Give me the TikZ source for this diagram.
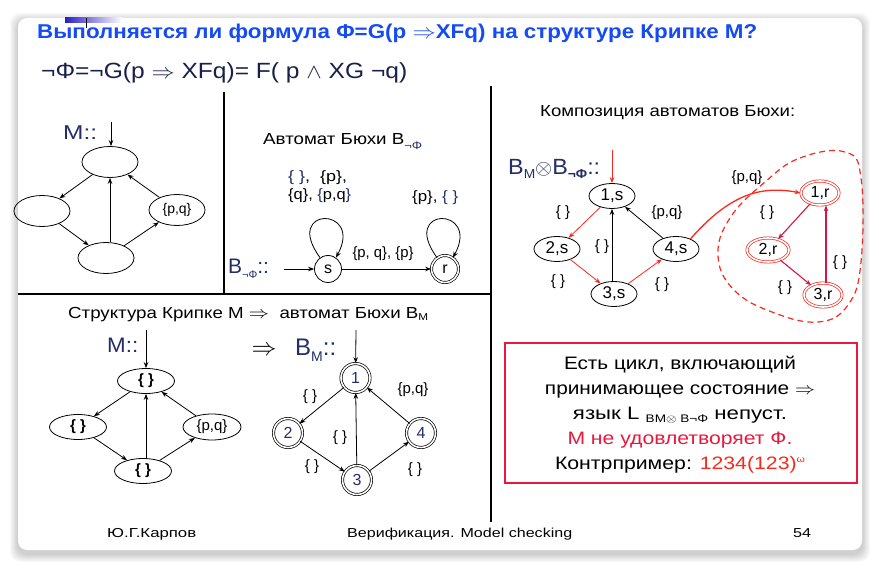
\documentclass[tikz,border=0pt]{standalone}
\usepackage{fontspec}
\usepackage{graphicx}
\setmainfont{Liberation Sans}
\usetikzlibrary{shapes.geometric,arrows.meta,calc}
\definecolor{tblue}{RGB}{20,75,245}
\definecolor{navy}{RGB}{35,45,105}
\definecolor{fred}{RGB}{250,40,30}
\definecolor{crim}{RGB}{215,20,70}
\definecolor{boxred}{RGB}{232,25,60}
\definecolor{deco}{RGB}{40,30,200}
\newcommand{\fw}[2]{\resizebox{#1}{\height}{#2}}
\newcommand{\fsz}[1]{\fontsize{#1}{#1}\selectfont}
\tikzset{
  arr/.style={-{Stealth[length=6pt,width=4.5pt]}, line width=0.8pt},
  ell/.style={draw, ellipse, line width=0.8pt, inner sep=0, minimum width=56pt, minimum height=31pt, font=\fsz{14}},
  ellb/.style={draw, ellipse, line width=0.8pt, inner sep=0, minimum width=57pt, minimum height=25pt, font=\fsz{15}\bfseries},
  circ/.style={draw, circle, line width=0.8pt, inner sep=0, minimum size=27pt, font=\fsz{16}},
  dcirc/.style={draw, circle, double, double distance=1.6pt, line width=0.7pt, inner sep=0, minimum size=29pt, text=navy, font=\fsz{16}},
  cell/.style={draw, ellipse, line width=0.8pt, inner sep=0, minimum width=46pt, minimum height=25pt, font=\fsz{17}},
  rcell/.style={draw=fred, ellipse, double, double distance=1.6pt, line width=0.7pt, inner sep=0, minimum width=38pt, minimum height=24pt, font=\fsz{16}},
  lbl/.style={inner sep=0, font=\fsz{15}},
  txt/.style={inner sep=0, anchor=base west},
}
\begin{document}
\begin{tikzpicture}[x=1pt,y=-1pt]
\useasboundingbox (0,0) rectangle (879,569);
\fill[white] (0,0) rectangle (879,569);
% card shadow
\foreach \i in {1,...,8}{
  \fill[black, opacity=0.025, rounded corners=10] (18-\i,18-\i+3) rectangle (862+\i,550+\i+4);
}
\fill[white, rounded corners=9] (18,18) rectangle (862,550);
% decoration
\shade[left color=deco, right color=white] (65,18) rectangle (122,23);
\draw[line width=0.8pt] (86,18) -- (86,28);

% title
\node[txt, text=tblue] (title) at (37,39) {\fw{720pt}{\fsz{20}\bfseries Выполняется ли формула Φ=G(p $\Rightarrow$XFq) на структуре Крипке M?}};
\node[txt, text=navy!70!black] (formula) at (41,79) {\fw{366pt}{\fsz{22}¬Φ=¬G(p $\Rightarrow$ XFq)= F( p $\wedge$ XG ¬q)}};

% separators
\draw[line width=1.3pt] (224,92) -- (224,294);
\draw[line width=1.3pt] (18,294) -- (491,294);
\draw[line width=1.3pt] (491,86) -- (491,522);

% ---- top-left: M
\node[txt, text=navy, font=\fsz{20}] (mlab) at (63,140) {\fw{34pt}{M::}};
\node[ell] (a1) at (110,162) {};
\node[ell] (a2) at (42,211) {};
\node[ell] (a4) at (177,210) {\{p,q\}};
\node[ell] (a3) at (106,258) {};
\coordinate (a0) at (111,122);
\draw[arr] (a0) -- (a0 |- a1.north);
\draw[arr] (a1) -- (a2);
\draw[arr] (a2) -- (a3);
\draw[arr] (a3) -- (a4);
\draw[arr] (a4) -- (a1);
\draw[arr] (a3.north -| a1) -- (a1);

% ---- top-middle: B_notPhi
\node[txt, font=\fsz{16}] (bt) at (263,145) {\fw{159pt}{Автомат Бюхи B\textcolor{navy}{\raisebox{-5pt}{\fsz{11}¬Φ}}}};
\node[txt, font=\fsz{15}] (l1) at (288,182) {\fw{59pt}{\textcolor{navy}{\{ \}},\ \ \{p\},}};
\node[txt, font=\fsz{15}] (l2) at (288,200) {\fw{63pt}{\{q\}, \textcolor{navy}{\{}p,q\textcolor{navy}{\}}}};
\node[circ] (s) at (328,269) {s};
\node[circ, double, double distance=1.6pt, line width=0.7pt] (r) at (445,269) {r};
\node[txt, text=navy, font=\fsz{21}] (bl) at (228,274) {B\raisebox{-5pt}{\fsz{11}¬Φ}::};
\coordinate (bin) at (284,269);
\draw[arr] (bin) -- (s);
\draw[arr] (s.125) .. controls (282,206) and (364,206) .. (s.55);
\draw[arr] (r.125) .. controls (399,206) and (481,206) .. (r.55);
\draw[arr] (s) -- (r);
\node[lbl, anchor=base] (l3) at (383,258) {\fw{61pt}{\{p, q\}, \{p\}}};
\node[txt, font=\fsz{15}] (l4) at (412,202) {\fw{46pt}{\{p\}, \textcolor{navy}{\{ \}}}};

% ---- top-right: composition
\node[txt, font=\fsz{16}] (ct) at (540,117) {\fw{255pt}{Композиция автоматов Бюхи:}};
\node[txt, text=navy, font=\fsz{22}] (cl) at (508,175) {\fw{92pt}{B\raisebox{-4pt}{\fsz{13}M}$\otimes$B\raisebox{-4pt}{\fsz{13}\bfseries¬Φ}::}};
\node[cell] (c1) at (612,196) {1,s};
\node[cell] (c2) at (557,249) {2,s};
\node[cell] (c4) at (676,249) {4,s};
\node[cell] (c3) at (614,294) {3,s};
\node[rcell] (d1) at (820,193) {1,r};
\node[rcell, minimum width=42pt] (d2) at (768,250) {2,r};
\node[rcell] (d3) at (823,295) {3,r};
\coordinate (cin) at (612,150);
\draw[arr, fred] (cin) -- (c1);
\draw[arr, fred] (c1) -- (c2);
\draw[arr, fred] (c2) -- (c3);
\draw[arr, fred] (c3) -- (c4);
\draw[arr] (c3.north -| c1) -- (c1);
\draw[arr] (c4) -- (c1);
\draw[arr, fred, line width=1.3pt] (c4.35) .. controls (725,200) and (755,184) .. (d1.west);
\draw[arr, crim, line width=1.1pt] (d1) -- (d2);
\draw[arr, crim, line width=1.1pt] (d2) -- (d3);
\draw[arr, crim, line width=1.1pt] (d3.north -| 826,0) -- (d1.south -| 826,0);
\node[lbl] (k1) at (563,213) {\{ \}};
\node[lbl] (k2) at (558,282) {\{ \}};
\node[lbl] (k3) at (662,285) {\{ \}};
\node[lbl] (k4) at (602,247) {\{ \}};
\node[lbl] (k5) at (667,213) {\{p,q\}};
\node[lbl] (k6) at (747,178) {\{p,q\}};
\node[lbl] (k7) at (767,213) {\{ \}};
\node[lbl] (k8) at (785,288) {\{ \}};
\node[lbl] (k9) at (840,263) {\{ \}};
\draw[fred, line width=1.2pt, dash pattern=on 6pt off 4pt]
  plot[smooth cycle, tension=0.7] coordinates {(765,182) (800,158) (845,152) (861,178) (861,262) (848,305) (818,322) (772,312) (734,290) (718,256) (730,218)};

% ---- bottom-left
\node[txt, font=\fsz{16}] (bt2) at (68,319) {\fw{360pt}{Структура Крипке M $\Rightarrow$\ \ автомат Бюхи B\raisebox{-2pt}{\fsz{10}M}}};
\node[txt, text=navy, font=\fsz{21}] (m2) at (107,353) {\fw{31pt}{M::}};
\node[ellb] (e1) at (146,381) {\{ \}};
\node[ellb] (e2) at (78,427) {\{ \}};
\node[ell, minimum width=58pt, minimum height=26pt, font=\fsz{15}] (e4) at (212,427) {\{p,q\}};
\node[ellb] (e3) at (143,471) {\{ \}};
\coordinate (e0) at (146,330);
\draw[arr] (e0) -- (e1);
\draw[arr] (e1) -- (e2);
\draw[arr] (e2) -- (e3);
\draw[arr] (e3) -- (e4);
\draw[arr] (e4) -- (e1);
\draw[arr] (e3.north -| e1) -- (e1);

\node[font=\fsz{26}] (impl) at (264,351) {$\Rightarrow$};
\node[txt, text=navy, font=\fsz{24}] (bm) at (295,356) {B\raisebox{-6pt}{\fsz{14}M}::};
\node[dcirc] (n1) at (355.5,378) {1};
\node[dcirc] (n2) at (288,433) {2};
\node[dcirc] (n4) at (421,433) {4};
\node[dcirc] (n3) at (357,480) {3};
\coordinate (n0) at (356,330);
\draw[arr] (n0) -- (n1);
\draw[arr] (n1) -- (n2);
\draw[arr] (n2) -- (n3);
\draw[arr] (n3) -- (n4);
\draw[arr] (n4) -- (n1);
\draw[arr] (n3) -- (n1);
\node[lbl] (m1) at (310,397) {\{ \}};
\node[lbl] (m2l) at (413,390) {\{p,q\}};
\node[lbl] (m3) at (340,438) {\{ \}};
\node[lbl] (m4) at (312,467) {\{ \}};
\node[lbl] (m5) at (415,470) {\{ \}};

% ---- red box
\draw[boxred, line width=1.5pt] (505,343) rectangle (857,483);
\node[inner sep=0, anchor=base, font=\fsz{18}] (t1) at (680,370) {\fw{232pt}{Есть цикл, включающий}};
\node[inner sep=0, anchor=base, font=\fsz{18}] (t2) at (680,395) {\fw{270pt}{принимающее состояние $\Rightarrow$}};
\node[inner sep=0, anchor=base, font=\fsz{18}] (t3) at (680,420) {\fw{214pt}{язык L \raisebox{-3pt}{\fsz{11}BM$\otimes$ B¬Φ} непуст.}};
\node[inner sep=0, anchor=base, font=\fsz{18}, text=boxred] (t4) at (680,445) {\fw{225pt}{M не удовлетворяет Ф.}};
\node[inner sep=0, anchor=base, font=\fsz{18}] (t5) at (680,470) {\fw{250pt}{Контрпример: \textcolor{fred}{1234(123)\raisebox{7pt}{\fsz{9}ω}}}};

% ---- footer
\node[txt, font=\fsz{13}] (f1) at (107,537) {\fw{89pt}{Ю.Г.Карпов}};
\node[txt, font=\fsz{13}] (f2) at (347,537) {\fw{225pt}{Верификация. Model checking}};
\node[txt, font=\fsz{13}] (f3) at (793,537) {\fw{18pt}{54}};
\end{tikzpicture}
\end{document}
